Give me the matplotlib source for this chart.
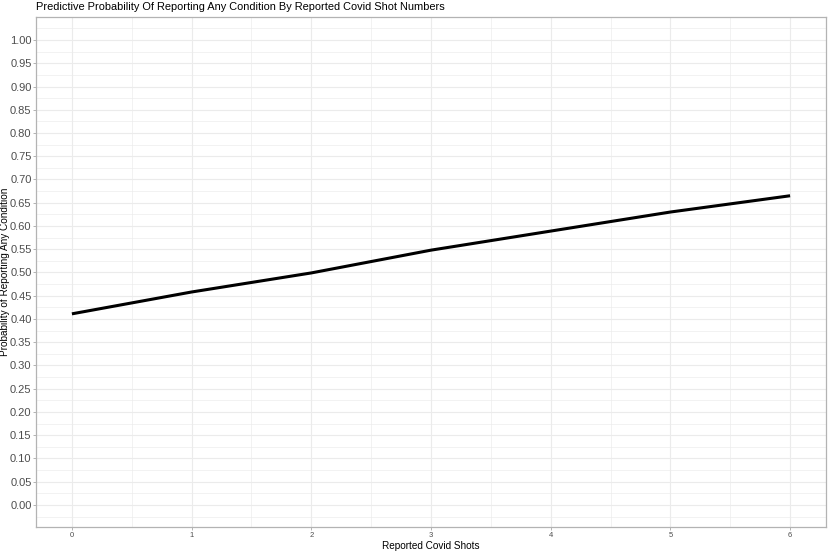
import matplotlib
matplotlib.use('Agg')
import matplotlib.pyplot as plt
import numpy as np

# ── DATA ────────────────────────────────────────────────────────────────────
shots = [0, 1, 2, 3, 4, 5, 6]
prob  = [0.411, 0.458, 0.499, 0.548, 0.589, 0.630, 0.665]

# ── STYLE ───────────────────────────────────────────────────────────────────
GRID   = '#ebebeb'
BORDER = '#b3b3b3'
TICK   = '#4d4d4d'

plt.rcParams['font.family'] = ['Liberation Sans', 'DejaVu Sans']

fig = plt.figure(figsize=(8.29, 5.53), dpi=100)
ax = fig.add_axes([36/829, 26/553, 790/829, 510/553])

ax.plot(shots, prob, color='black', linewidth=2.2, solid_capstyle='butt', zorder=5)

# ticks first, limits after (set_xticks would widen the view)
ax.set_xticks(shots)
ax.set_xticks(np.arange(-0.5, 6.6, 1.0), minor=True)
yt = np.arange(0, 1.0001, 0.05)
ax.set_yticks(yt)
ax.set_yticklabels([f'{v:.2f}' for v in yt])
ax.set_yticks(np.arange(-0.025, 1.05, 0.05), minor=True)

ax.set_xlim(-0.3, 6.3)
ax.set_ylim(-0.0475, 1.0495)

ax.grid(True, which='major', color=GRID, linewidth=0.8)
ax.grid(True, which='minor', color=GRID, linewidth=0.45)
ax.set_axisbelow(True)

for s in ax.spines.values():
    s.set_color(BORDER)
    s.set_linewidth(0.9)

ax.tick_params(axis='both', which='major', color=BORDER, length=2.2, width=0.7)
ax.tick_params(axis='both', which='minor', length=0)
ax.tick_params(axis='y', labelsize=8, labelcolor=TICK, pad=1)
ax.tick_params(axis='x', labelsize=5.5, labelcolor=TICK, pad=1.5)

ax.set_xlabel('Reported Covid Shots', fontsize=7.2, labelpad=1)
ax.set_ylabel('Probability of Reporting Any Condition', fontsize=7.2)
ax.yaxis.set_label_coords(-0.0325, 0.5)
ax.set_title('Predictive Probability Of Reporting Any Condition By Reported Covid Shot Numbers',
             fontsize=7.9, loc='left', pad=5)

plt.savefig('out.png', dpi=100)
plt.close()
